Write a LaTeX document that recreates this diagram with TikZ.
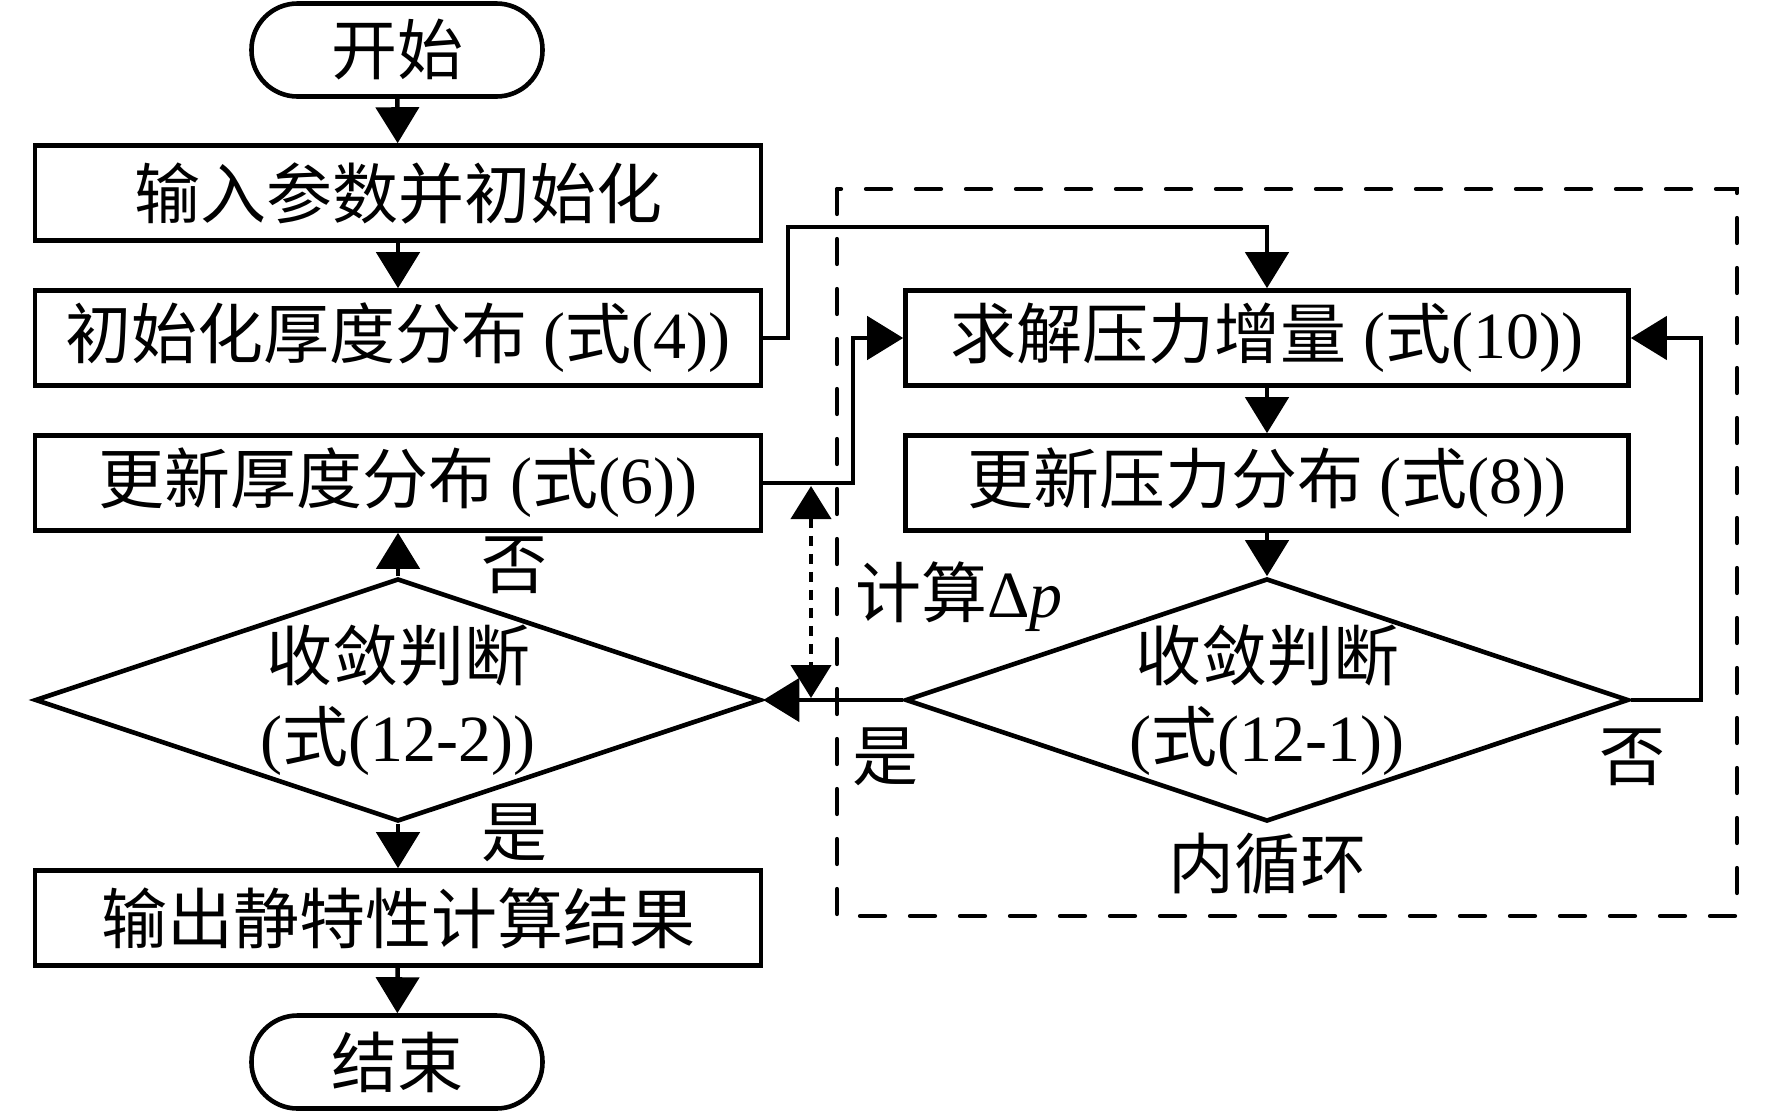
\documentclass[tikz,border=0pt]{standalone}
\usepackage{fontspec}
\setmainfont{Liberation Serif}
\newfontfamily\cjk{Noto Sans CJK SC}
\usetikzlibrary{shapes.geometric,arrows.meta}
\newcommand\zh[1]{{\cjk #1}}
\begin{document}
\begin{tikzpicture}[x=1pt,y=-1pt,
  every node/.style={font=\fontsize{66}{81}\selectfont},
  box/.style={draw, line width=4.6pt, minimum width=726pt, minimum height=95pt, inner sep=0pt},
  term/.style={draw, line width=4.6pt, rounded corners=46pt, minimum width=291pt, minimum height=93pt, inner sep=0pt},
  dec/.style={draw, diamond, line width=4.6pt, minimum width=726pt, minimum height=243pt, aspect=2.99, inner sep=0pt},
  arr/.style={line width=4.6pt, -{Triangle[length=36pt,width=43pt]}},
  darr/.style={line width=4.2pt, dash pattern=on 10pt off 8pt, {Triangle[length=33pt,width=40pt]}-{Triangle[length=33pt,width=40pt]}},
  frame/.style={line width=4.2pt, line cap=round, dash pattern=on 25pt off 25pt}
]
\useasboundingbox (0,0) rectangle (1772,1112);
\draw[frame] (837,189) rectangle (1737,916);

\node[term] (start) at (397,50) {\zh{开始}};
\node[box] (b1) at (398,193) {\zh{输入参数并初始化}};
\node[box] (b2) at (398,338) {\zh{初始化厚度分布} (\zh{式}(4))};
\node[box] (b3) at (398,483) {\zh{更新厚度分布} (\zh{式}(6))};
\node[dec] (d2) at (398,700) {};
\node[align=center] (t2) at (d2.center) {\zh{收敛判断}\\(\zh{式}(12-2))};
\node[box] (bout) at (398,918) {\zh{输出静特性计算结果}};
\node[term] (end) at (397,1062) {\zh{结束}};

\node[box, minimum width=723pt] (rA) at (1267,338) {\zh{求解压力增量} (\zh{式}(10))};
\node[box, minimum width=723pt] (rB) at (1267,483) {\zh{更新压力分布} (\zh{式}(8))};
\node[dec, minimum width=723pt] (d1) at (1267,700) {};
\node[align=center] (t1) at (d1.center) {\zh{收敛判断}\\(\zh{式}(12-1))};

\coordinate (c1) at (788,227);
\coordinate (c2) at (853,483);
\coordinate (c3) at (1701,700);
\coordinate (p1) at (811,486);
\coordinate (p2) at (811,698);

\draw[arr] (start) -- (b1);
\draw[arr] (b1) -- (b2);
\draw[arr] (b2.east) -| (c1) -| (rA.north);
\draw[arr] (b3.east) -- (c2) |- (rA.west);
\draw[arr] (rA) -- (rB);
\draw[arr] (rB) -- (d1.north);
\draw[arr] (d1.east) -- (c3) |- (rA.east);
\draw[arr] (d1.west) -- (d2.east);
\draw[arr] (d2.north) -- (b3.south);
\draw[arr] (d2.south) -- (bout.north);
\draw[arr] (bout) -- (end);
\draw[darr] (p1) -- (p2);

\node (no1) at (514,565) {\zh{否}};
\node (yes1) at (514,833) {\zh{是}};
\node (yes2) at (885,757) {\zh{是}};
\node (no2) at (1632,757) {\zh{否}};
\node[anchor=west, inner sep=0pt] (dp) at (855,597) {\zh{计算}Δ\textit{p}};
\node (inner) at (1267,864) {\zh{内循环}};
\end{tikzpicture}
\end{document}
